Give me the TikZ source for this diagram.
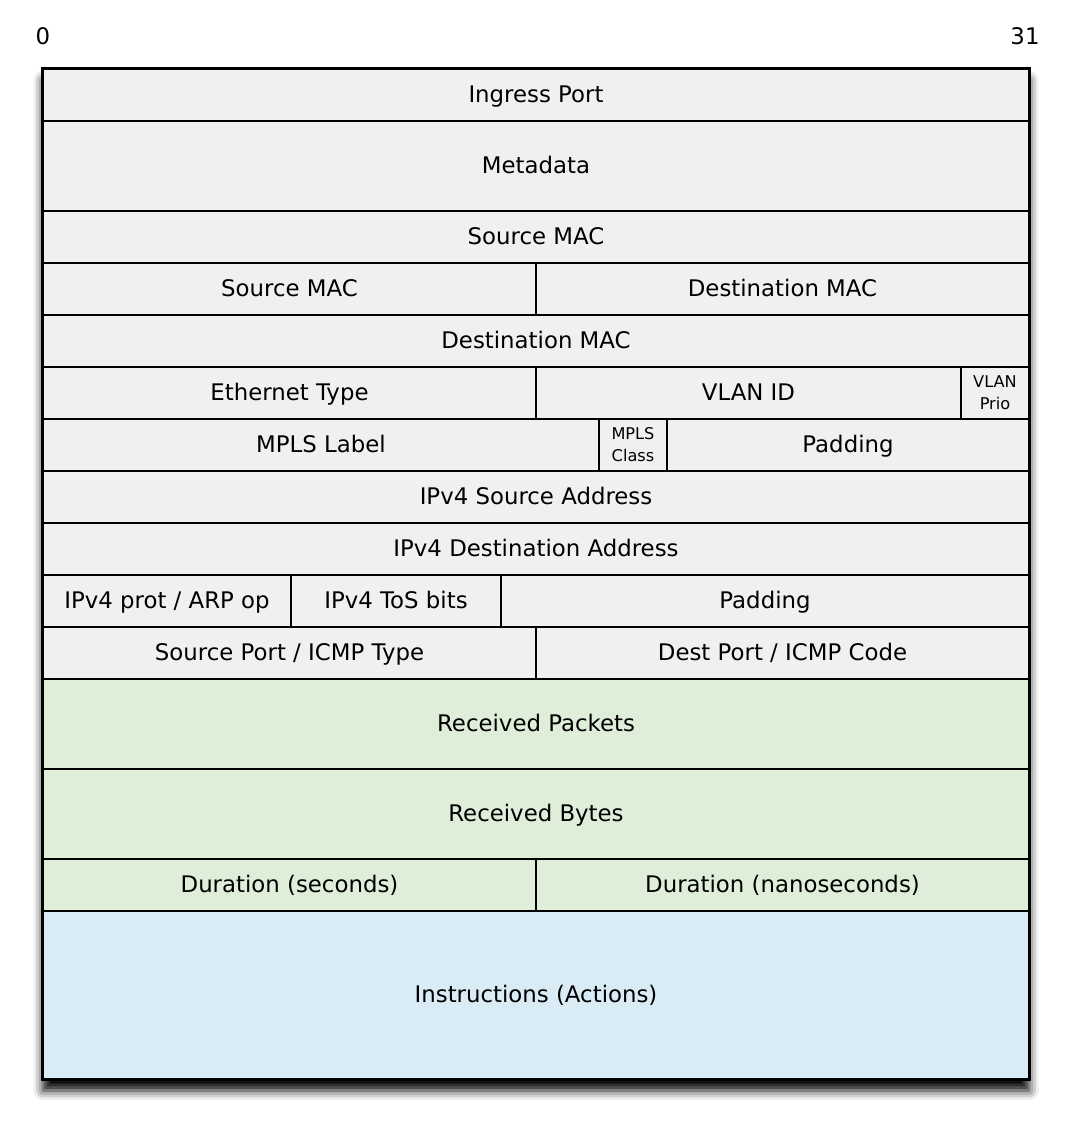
\documentclass[tikz,border=0pt]{standalone}
\usepackage{fontspec}
\setmainfont{DejaVu Sans}
\usepackage{xcolor}
\usepackage{tikz}
\usetikzlibrary{shadows.blur}

\definecolor{fldgray}{RGB}{240,240,240}
\definecolor{fldgreen}{RGB}{223,238,217}
\definecolor{fldblue}{RGB}{217,235,245}

% one field of the entry: [style] name, fill, x1, y1, x2, y2, text (pixel grid)
\newcommand{\fld}[8][]{%
  \node[field, fill=#3,
        minimum width={(#6-#4)*0.02cm}, minimum height={(#7-#5)*0.02cm}, #1]
    (#2) at ({(#4+#6)/2},{(#5+#7)/2}) {#8};}

\begin{document}
\begin{tikzpicture}[
  x=0.02cm, y=-0.02cm,
  every node/.style={font=\fontsize{13}{15}\selectfont},
  field/.style={draw, line width=1.1pt, inner sep=0pt, align=center,
                text height=11.2pt, text depth=2.6pt},
  tiny field/.style={font=\fontsize{9.2}{12.5}\selectfont,
                     text height=, text depth=},
]

\useasboundingbox (0,0) rectangle (1070,1126);

%% ── Bit ruler ────────────────────────────────────────────────────────────────
\node (bit0)  at (43,36)   {0};
\node (bit31) at (1025,36) {31};

%% ── Frame with shadow ────────────────────────────────────────────────────────
\node[field, fill=white, line width=1.3pt,
      blur shadow={shadow xshift=0pt, shadow yshift=-6.5pt,
                   shadow blur radius=5.5pt, shadow opacity=100},
      minimum width={986*0.02cm}, minimum height={1010*0.02cm}]
  (frame) at (536,574) {};

%% ── Match fields ─────────────────────────────────────────────────────────────
\fld{inport}{fldgray}{43}{69}{1029}{121}{Ingress Port}
\fld{meta}{fldgray}{43}{121}{1029}{211}{Metadata}
\fld{srcmaca}{fldgray}{43}{211}{1029}{263}{Source MAC}
\fld{srcmacb}{fldgray}{43}{263}{536}{315}{Source MAC}
\fld{dstmaca}{fldgray}{536}{263}{1029}{315}{Destination MAC}
\fld{dstmacb}{fldgray}{43}{315}{1029}{367}{Destination MAC}
\fld{ethtype}{fldgray}{43}{367}{536}{419}{Ethernet Type}
\fld{vlanid}{fldgray}{536}{367}{961}{419}{VLAN ID}
\fld[tiny field]{vlanprio}{fldgray}{961}{367}{1029}{419}{VLAN\\Prio}
\fld{mplslbl}{fldgray}{43}{419}{599}{471}{MPLS Label}
\fld[tiny field]{mplscls}{fldgray}{599}{419}{667}{471}{MPLS\\Class}
\fld{pada}{fldgray}{667}{419}{1029}{471}{Padding}
\fld{ipsrc}{fldgray}{43}{471}{1029}{523}{IPv4 Source Address}
\fld{ipdst}{fldgray}{43}{523}{1029}{575}{IPv4 Destination Address}
\fld{ipprot}{fldgray}{43}{575}{291}{627}{IPv4 prot / ARP op}
\fld{iptos}{fldgray}{291}{575}{501}{627}{IPv4 ToS bits}
\fld{padb}{fldgray}{501}{575}{1029}{627}{Padding}
\fld{srcport}{fldgray}{43}{627}{536}{679}{Source Port / ICMP Type}
\fld{dstport}{fldgray}{536}{627}{1029}{679}{Dest Port / ICMP Code}

%% ── Counters ─────────────────────────────────────────────────────────────────
\fld{rxpkts}{fldgreen}{43}{679}{1029}{769}{Received Packets}
\fld{rxbytes}{fldgreen}{43}{769}{1029}{859}{Received Bytes}
\fld{dursec}{fldgreen}{43}{859}{536}{911}{Duration (seconds)}
\fld{durnsec}{fldgreen}{536}{859}{1029}{911}{Duration (nanoseconds)}

%% ── Instructions ─────────────────────────────────────────────────────────────
\fld{instr}{fldblue}{43}{911}{1029}{1079}{Instructions (Actions)}

%% redraw outer border on top
\draw[line width=1.3pt] (frame.north west) rectangle (frame.south east);

\end{tikzpicture}
\end{document}
